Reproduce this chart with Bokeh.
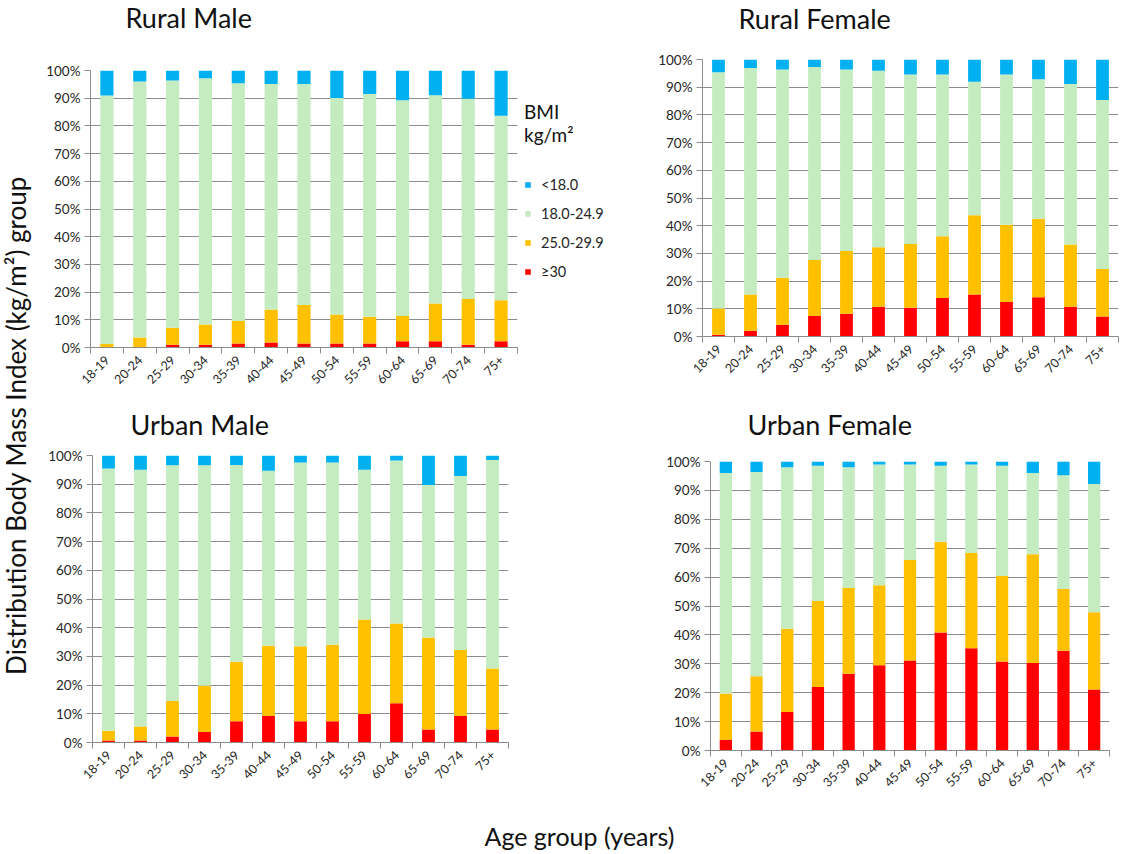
from math import pi
from bokeh.plotting import figure
from bokeh.layouts import row, column
from bokeh.models import (Range1d, FixedTicker, PrintfTickFormatter, Legend,
                          LegendItem, ColumnDataSource, Title)
from bokeh.embed import file_html
from bokeh.resources import INLINE
from bokeh.core.properties import value

# ---------------- data (percent of each age group) ----------------
ages = ["18-19", "20-24", "25-29", "30-34", "35-39", "40-44", "45-49",
        "50-54", "55-59", "60-64", "65-69", "70-74", "75+"]

bmi_classes = ["≥30", "25.0-29.9", "18.0-24.9", "<18.0"]

rural_male_obese = [0.2, 0.2, 1.0, 1.0, 1.4, 1.8, 1.4, 1.4, 1.4, 2.3, 2.3, 1.0, 2.3]
rural_male_over = [1.1, 3.4, 6.1, 7.3, 8.2, 11.9, 13.9, 10.5, 9.7, 9.1, 13.6, 16.5, 14.8]
rural_male_normal = [89.7, 92.4, 89.3, 88.9, 85.8, 81.4, 79.8, 78.2, 80.4, 77.9, 75.2, 72.3, 66.6]
rural_male_under = [9.0, 4.0, 3.6, 2.8, 4.6, 4.9, 4.9, 9.9, 8.5, 10.7, 8.9, 10.2, 16.3]

rural_female_obese = [0.6, 2.1, 4.2, 7.4, 8.2, 10.7, 10.4, 13.9, 15.2, 12.5, 14.2, 10.7, 7.2]
rural_female_over = [9.5, 13.1, 17.0, 20.2, 22.7, 21.5, 23.0, 22.3, 28.6, 27.8, 28.3, 22.5, 17.2]
rural_female_normal = [85.3, 81.7, 75.2, 69.7, 65.5, 63.7, 61.2, 58.4, 48.2, 54.3, 50.4, 58.0, 61.0]
rural_female_under = [4.6, 3.1, 3.6, 2.7, 3.6, 4.1, 5.4, 5.4, 8.0, 5.4, 7.1, 8.8, 14.6]

urban_male_obese = [0.7, 0.7, 2.1, 3.7, 7.4, 9.2, 7.4, 7.4, 9.9, 13.7, 4.5, 9.2, 4.5]
urban_male_over = [3.4, 4.9, 12.4, 16.1, 20.7, 24.5, 26.1, 26.7, 33.0, 27.8, 32.1, 23.0, 21.3]
urban_male_normal = [91.4, 89.4, 82.1, 76.8, 68.6, 61.0, 64.1, 63.5, 52.1, 56.8, 53.1, 60.7, 72.6]
urban_male_under = [4.5, 5.0, 3.4, 3.4, 3.3, 5.3, 2.4, 2.4, 5.0, 1.7, 10.3, 7.1, 1.6]

urban_female_obese = [3.6, 6.6, 13.3, 22.0, 26.6, 29.5, 31.1, 40.8, 35.4, 30.8, 30.3, 34.5, 21.1]
urban_female_over = [16.1, 19.1, 28.8, 29.7, 29.7, 27.7, 34.8, 31.4, 32.9, 29.6, 37.6, 21.4, 26.7]
urban_female_normal = [76.3, 70.7, 55.9, 46.8, 41.7, 41.8, 33.1, 26.3, 30.7, 38.1, 28.1, 39.3, 44.4]
urban_female_under = [4.0, 3.6, 2.0, 1.5, 2.0, 1.0, 1.0, 1.5, 1.0, 1.5, 4.0, 4.8, 7.8]

# ---------------- styling ----------------
COLORS = ["#FF0000", "#FFC000", "#C4ECC0", "#00B0F0"]
GRID = "#8c8c8c"
FONT = "Lato"
TXT = "#262626"
STACK = ["obese", "over", "normal", "under"]


def make_source(obese, over, normal, under):
    xs = [i + 0.5 for i in range(len(ages))]
    return ColumnDataSource(dict(x=xs, obese=obese, over=over,
                                 normal=normal, under=under))


def panel(title, src, width, height, bl, br, bt, bb, t_off, gap):
    xs = list(src.data["x"])
    p = figure(width=width, height=height, title=None,
               x_range=Range1d(0, len(ages)), y_range=Range1d(0, 100),
               output_backend="svg", toolbar_location=None,
               min_border_left=bl, min_border_right=br,
               min_border_top=bt, min_border_bottom=bb)
    p.vbar_stack(STACK, x="x", width=0.4, source=src, color=COLORS,
                 line_color=None)
    # blank spacer between the frame and the panel title
    p.add_layout(Title(text=" ", text_font_size="1px", standoff=gap), "above")
    p.add_layout(Title(text=title, text_font=FONT, text_font_size="27px",
                       text_font_style="normal", text_color="#111111",
                       align="left", vertical_align="top", offset=t_off,
                       standoff=0), "above")

    p.outline_line_color = None
    p.xgrid.visible = False
    p.ygrid.grid_line_color = GRID
    p.ygrid.grid_line_width = 1

    xa = p.xaxis[0]
    xa.ticker = FixedTicker(ticks=xs, minor_ticks=list(range(len(ages) + 1)))
    xa.major_label_overrides = {x: a for x, a in zip(xs, ages)}
    xa.major_label_orientation = pi / 4
    xa.major_tick_line_color = None
    xa.minor_tick_in = 0
    xa.minor_tick_out = 6
    xa.minor_tick_line_color = GRID
    xa.axis_line_color = GRID
    xa.major_label_text_font = FONT
    xa.major_label_text_font_size = "12.5px"
    xa.major_label_text_color = TXT
    xa.major_label_standoff = 4

    ya = p.yaxis[0]
    ya.ticker = FixedTicker(ticks=list(range(0, 101, 10)))
    ya.formatter = PrintfTickFormatter(format="%d%%")
    ya.minor_tick_line_color = None
    ya.major_tick_in = 0
    ya.major_tick_out = 6
    ya.major_tick_line_color = GRID
    ya.axis_line_color = GRID
    ya.major_label_text_font = FONT
    ya.major_label_text_font_size = "13.5px"
    ya.major_label_text_color = TXT
    ya.major_label_standoff = 4
    return p


rm_src = make_source(rural_male_obese, rural_male_over, rural_male_normal, rural_male_under)
rf_src = make_source(rural_female_obese, rural_female_over, rural_female_normal, rural_female_under)
um_src = make_source(urban_male_obese, urban_male_over, urban_male_normal, urban_male_under)
uf_src = make_source(urban_female_obese, urban_female_over, urban_female_normal, urban_female_under)

# top row (page y 0 -> 405)
rm = panel("Rural Male", rm_src, 482, 405, 50, 5, 70, 58, 35, 32)
rf = panel("Rural Female", rf_src, 476, 405, 57, 3, 59, 69, 36, 20)
# bottom row (page y 405 -> 808)
um = panel("Urban Male", um_src, 580, 403, 52, 112, 50, 66, 38, 10)
uf = panel("Urban Female", uf_src, 501, 403, 90, 12, 56, 58, 37, 16)

# legend panel (legend entries reference the BMI classes' stacked renderers)
lg = figure(width=123, height=405, x_range=Range1d(0, 1), y_range=Range1d(0, 1),
            output_backend="svg", toolbar_location=None, min_border=0,
            x_axis_type=None, y_axis_type=None)
lg.grid.visible = False
lg.outline_line_color = None
keys = lg.vbar_stack(STACK, x="x", width=0.4, source=rm_src, color=COLORS,
                     line_color=None, visible=False)
legend = Legend(items=[LegendItem(label=bmi_classes[i], renderers=[keys[i]])
                       for i in (3, 2, 1, 0)],
                title="BMI\nkg/m²", location=(2, 125))
legend.border_line_color = None
legend.background_fill_alpha = 0
legend.inactive_fill_alpha = 0
legend.title_text_font = FONT
legend.title_text_font_size = "19px"
legend.title_text_font_style = "normal"
legend.title_text_color = "#111111"
legend.title_standoff = 30
legend.label_text_font = FONT
legend.label_text_font_size = "14.5px"
legend.label_text_color = TXT
legend.glyph_width = 7
legend.glyph_height = 7
legend.label_standoff = 10
legend.spacing = 12
legend.padding = 5
legend.margin = 0
lg.add_layout(legend, "center")

# outer axis titles
yl = figure(width=40, height=852, x_range=Range1d(0, 40), y_range=Range1d(0, 852),
            output_backend="svg", toolbar_location=None, min_border=0,
            x_axis_type=None, y_axis_type=None)
yl.grid.visible = False
yl.outline_line_color = None
yl.text(x=[15], y=[427], text=["Distribution Body Mass Index (kg/m²) group"],
        angle=pi / 2, text_align="center", text_baseline="middle",
        text_font=value(FONT), text_font_size=value("26px"), text_color="#111111")

xl = figure(width=1081, height=44, x_range=Range1d(0, 1081), y_range=Range1d(0, 44),
            output_backend="svg", toolbar_location=None, min_border=0,
            x_axis_type=None, y_axis_type=None)
xl.grid.visible = False
xl.outline_line_color = None
xl.text(x=[539], y=[17], text=["Age group (years)"],
        text_align="center", text_baseline="middle",
        text_font=value(FONT), text_font_size=value("25px"), text_color="#111111")

layout = row(yl, column(row(column(rm), column(lg), column(rf)),
                        row(column(um), column(uf)), xl))

open("out.html", "w").write(file_html(layout, INLINE))
